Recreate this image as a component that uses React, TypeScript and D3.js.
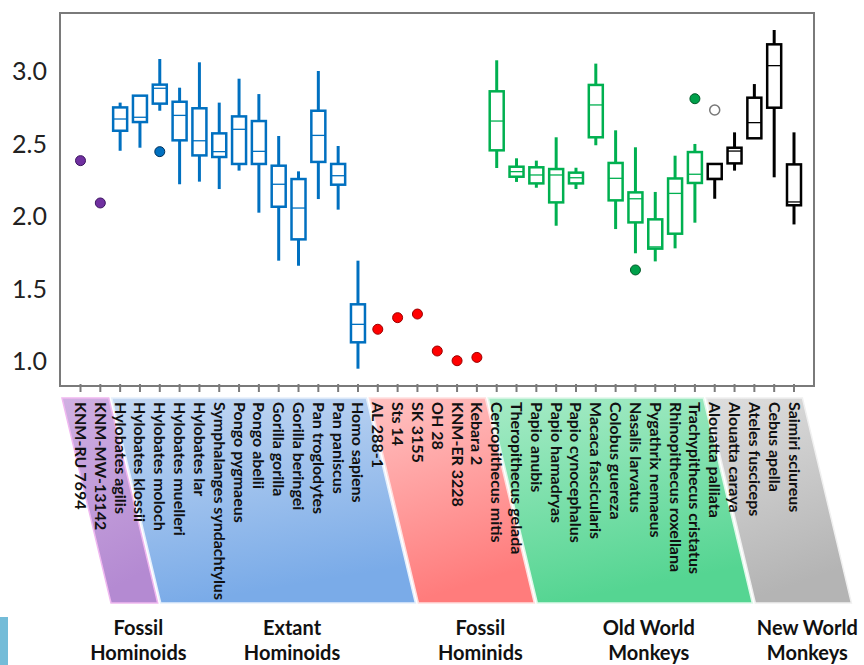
import React from 'react'
import * as d3 from 'd3'

// species in plotting order
const categories = [
  'KNM-RU 7694', 'KNM-MW-13142',
  'Hylobates agilis', 'Hylobates klossii', 'Hylobates moloch', 'Hylobates muelleri',
  'Hylobates lar', 'Symphalanges syndachtylus', 'Pongo pygmaeus', 'Pongo abelii',
  'Gorilla gorilla', 'Gorilla beringei', 'Pan troglodytes', 'Pan paniscus', 'Homo sapiens',
  'AL 288-1', 'Sts 14', 'SK 3155', 'OH 28', 'KNM-ER 3228', 'Kebara 2',
  'Cercopithecus mitis', 'Theropithecus gelada', 'Papio anubis', 'Papio hamadryas',
  'Papio cynocephalus', 'Macaca fascicularis', 'Colobus guereza', 'Nasalis larvatus',
  'Pygathrix nemaeus', 'Rhinopithecus roxellana', 'Trachypithecus cristatus',
  'Alouatta palliata', 'Alouatta caraya', 'Ateles fusciceps', 'Cebus apella', 'Saimiri sciureus',
]

const groupNames = [
  ['Fossil', 'Hominoids'],
  ['Extant', 'Hominoids'],
  ['Fossil', 'Hominids'],
  ['Old World', 'Monkeys'],
  ['New World', 'Monkeys'],
]
const groupSizes = [2, 13, 6, 11, 5]

// single specimens
const specimenValues: [string, number][] = [
  ['KNM-RU 7694', 2.375],
  ['KNM-MW-13142', 2.083],
  ['AL 288-1', 1.212],
  ['Sts 14', 1.292],
  ['SK 3155', 1.317],
  ['OH 28', 1.062],
  ['KNM-ER 3228', 0.995],
  ['Kebara 2', 1.018],
]

// [species, low whisker, q1, median, q3, high whisker]
const boxStats: [string, number, number, number, number, number][] = [
  ['Hylobates agilis', 2.443, 2.581, 2.662, 2.742, 2.775],
  ['Hylobates klossii', 2.464, 2.641, 2.674, 2.823, 2.823],
  ['Hylobates moloch', 2.719, 2.768, 2.874, 2.899, 3.076],
  ['Hylobates muelleri', 2.212, 2.515, 2.687, 2.781, 2.878],
  ['Hylobates lar', 2.23, 2.411, 2.512, 2.736, 3.053],
  ['Symphalanges syndachtylus', 2.179, 2.4, 2.437, 2.563, 2.775],
  ['Pongo pygmaeus', 2.306, 2.352, 2.591, 2.68, 2.94],
  ['Pongo abelii', 2.016, 2.352, 2.439, 2.648, 2.834],
  ['Gorilla gorilla', 1.685, 2.057, 2.212, 2.34, 2.545],
  ['Gorilla beringei', 1.65, 1.832, 2.048, 2.248, 2.301],
  ['Pan troglodytes', 2.11, 2.366, 2.549, 2.719, 2.993],
  ['Pan paniscus', 2.037, 2.209, 2.271, 2.352, 2.476],
  ['Homo sapiens', 0.94, 1.122, 1.246, 1.384, 1.685],
  ['Cercopithecus mitis', 2.324, 2.446, 2.648, 2.853, 3.067],
  ['Theropithecus gelada', 2.228, 2.264, 2.299, 2.333, 2.391],
  ['Papio anubis', 2.188, 2.218, 2.276, 2.329, 2.375],
  ['Papio hamadryas', 1.926, 2.087, 2.276, 2.317, 2.536],
  ['Papio cynocephalus', 2.179, 2.218, 2.257, 2.292, 2.326],
  ['Macaca fascicularis', 2.481, 2.536, 2.759, 2.897, 3.044],
  ['Colobus guereza', 1.903, 2.101, 2.253, 2.359, 2.584],
  ['Nasalis larvatus', 1.736, 1.949, 2.112, 2.156, 2.467],
  ['Pygathrix nemaeus', 1.68, 1.768, 1.78, 1.97, 2.159],
  ['Rhinopithecus roxellana', 1.77, 1.871, 2.149, 2.252, 2.409],
  ['Trachypithecus cristatus', 1.947, 2.221, 2.281, 2.434, 2.49],
  ['Alouatta palliata', 2.112, 2.248, 2.252, 2.352, 2.352],
  ['Alouatta caraya', 2.306, 2.356, 2.441, 2.464, 2.57],
  ['Ateles fusciceps', 2.529, 2.529, 2.637, 2.809, 2.903],
  ['Cebus apella', 2.26, 2.74, 3.03, 3.177, 3.276],
  ['Saimiri sciureus', 1.935, 2.067, 2.09, 2.349, 2.57],
]

// [species, value, filled]
const outliers: [string, number, boolean][] = [
  ['Hylobates moloch', 2.437, true],
  ['Nasalis larvatus', 1.621, true],
  ['Trachypithecus cristatus', 2.802, true],
  ['Alouatta palliata', 2.724, false],
]

const yTicks = [1.0, 1.5, 2.0, 2.5, 3.0]

// styling per group
const markColor = ['#7030a0', '#0070c0', '#ff0000', '#00b050', '#000000']
const dotFill = ['#7030a0', '#0070c0', '#ff0000', '#00a04a', '#000000']
const dotStroke = ['#3d1560', '#00305a', '#9a0000', '#005a28', '#000000']
const bandTop = ['#d0b0e2', '#c4d8f2', '#ffc2c2', '#a6ebc6', '#dedede']
const bandBottom = ['#b48ad2', '#7aabe8', '#ff7c7c', '#55d592', '#b4b4b4']
const bandEdge = ['#f0b8f0', '#e6f0fc', '#ffe0e0', '#e0f8ea', '#f0f0f0']

const W = 864
const H = 665
const frame = {left: 60, top: 13, right: 814, bottom: 386}
const font = 'Lato, "Open Sans", sans-serif'

const App = () => {
  const x = d3.scalePoint<string>().domain(categories).range([80.5, 794])
  const y = d3.scaleLinear().domain([1, 3]).range([360, 70])
  const step = x.step()
  const boxW = 14

  const groupOf = new Map<string, number>()
  let start = 0
  const groups = groupSizes.map((n, gi) => {
    const members = categories.slice(start, start + n)
    members.forEach((m) => groupOf.set(m, gi))
    start += n
    return {gi, members}
  })

  const bandTopY = 398
  const bandBottomY = 603
  const slant = 49

  return (
    <svg
      width={W}
      height={H}
      style={{position: 'absolute', left: 0, top: 0, display: 'block', background: '#fff'}}
    >
      <defs>
        {groups.map(({gi}) => (
          <linearGradient key={gi} id={`band${gi}`} x1="0" y1="0" x2="0.25" y2="1">
            <stop offset="0%" stopColor={bandTop[gi]} />
            <stop offset="100%" stopColor={bandBottom[gi]} />
          </linearGradient>
        ))}
      </defs>

      <rect x={0} y={617} width={8} height={48} fill="#74bcd8" />

      {/* group bands under the axis */}
      {groups.map(({gi, members}) => {
        const first = members[0]
        const last = members[members.length - 1]
        const l = gi === 0 ? frame.left + 2 : (x(first) as number) - step / 2 + 1.5
        const r = (x(last) as number) + step / 2 - 1.5
        const pts = [
          [l, bandTopY],
          [r, bandTopY],
          [r + slant, bandBottomY],
          [l + slant, bandBottomY],
        ]
        const cx = (l + r) / 2 + slant + 4
        return (
          <g key={gi}>
            <polygon
              points={pts.map((p) => p.join(',')).join(' ')}
              fill={`url(#band${gi})`}
              stroke={bandEdge[gi]}
              strokeWidth={1.5}
            />
            <text
              x={cx}
              y={635}
              textAnchor="middle"
              fontFamily={font}
              fontWeight="bold"
              fontSize={20}
              fill="#111"
            >
              {groupNames[gi][0]}
            </text>
            <text
              x={cx}
              y={660}
              textAnchor="middle"
              fontFamily={font}
              fontWeight="bold"
              fontSize={20}
              fill="#111"
            >
              {groupNames[gi][1]}
            </text>
          </g>
        )
      })}

      {/* species labels */}
      {categories.map((c) => (
        <text
          key={c}
          transform={`translate(${(x(c) as number) + 1},${402}) rotate(90)`}
          dominantBaseline="central"
          fontFamily={font}
          fontWeight="bold"
          fontSize={16}
          fill="#111"
        >
          {c}
        </text>
      ))}

      {/* frame */}
      <rect
        x={frame.left}
        y={frame.top}
        width={frame.right - frame.left}
        height={frame.bottom - frame.top}
        fill="none"
        stroke="#7a7a7a"
        strokeWidth={2}
      />
      {categories.map((c) => (
        <line
          key={c}
          x1={x(c)}
          x2={x(c)}
          y1={frame.bottom - 2}
          y2={frame.bottom + 6}
          stroke="#7a7a7a"
          strokeWidth={2}
        />
      ))}

      {yTicks.map((t) => (
        <text
          key={t}
          x={47}
          y={y(t)}
          textAnchor="end"
          dominantBaseline="central"
          fontFamily={font}
          fontSize={25}
          fill="#222"
        >
          {d3.format('.1f')(t)}
        </text>
      ))}

      {/* boxes */}
      {boxStats.map(([name, lo, q1, med, q3, hi]) => {
        const cx = x(name) as number
        const color = markColor[groupOf.get(name) as number]
        return (
          <g key={name}>
            <line x1={cx} x2={cx} y1={y(hi)} y2={y(q3)} stroke={color} strokeWidth={3} />
            <line x1={cx} x2={cx} y1={y(q1)} y2={y(lo)} stroke={color} strokeWidth={3} />
            <rect
              x={cx - boxW / 2}
              y={y(q3)}
              width={boxW}
              height={y(q1) - y(q3)}
              fill="#fff"
              stroke={color}
              strokeWidth={2.5}
            />
            <line
              x1={cx - boxW / 2}
              x2={cx + boxW / 2}
              y1={y(med)}
              y2={y(med)}
              stroke={color}
              strokeWidth={1.3}
            />
          </g>
        )
      })}

      {/* single specimens */}
      {specimenValues.map(([name, v]) => {
        const gi = groupOf.get(name) as number
        return (
          <circle
            key={name}
            cx={x(name)}
            cy={y(v)}
            r={5}
            fill={dotFill[gi]}
            stroke={dotStroke[gi]}
            strokeWidth={1}
          />
        )
      })}

      {outliers.map(([name, v, filled]) => {
        const gi = groupOf.get(name) as number
        return (
          <circle
            key={name}
            cx={x(name)}
            cy={y(v)}
            r={5}
            fill={filled ? dotFill[gi] : '#fff'}
            stroke={filled ? dotStroke[gi] : '#777'}
            strokeWidth={filled ? 1 : 1.5}
          />
        )
      })}
    </svg>
  )
}

export default App
